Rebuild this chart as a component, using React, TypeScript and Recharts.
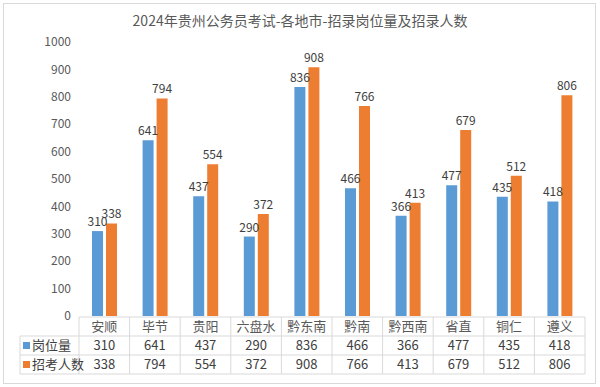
import { BarChart, Bar, XAxis, YAxis, LabelList } from 'recharts';

const categories = ['安顺', '毕节', '贵阳', '六盘水', '黔东南', '黔南', '黔西南', '省直', '铜仁', '遵义'];
const posts = [310, 641, 437, 290, 836, 466, 366, 477, 435, 418];
const applicants = [338, 794, 554, 372, 908, 766, 413, 679, 512, 806];
const yTicks = [0, 100, 200, 300, 400, 500, 600, 700, 800, 900, 1000];
const seriesNames = ['岗位量', '招考人数'];
const seriesColors = ['#5B9BD5', '#ED7D31'];

const FONT = '"Noto Sans CJK SC", "Noto Sans", sans-serif';
const W = 600;
const H = 387;
const LEFT = 79;
const RIGHT = 15;
const BAND = (W - LEFT - RIGHT) / categories.length;
const LINE = '#d9d9d9';

const data = categories.map((name, i) => ({
  name,
  posts: posts[i],
  applicants: applicants[i],
}));

// one table column per category, drawn under the axis
const TableTick = (props: any) => {
  const { x, y, payload, index } = props;
  const i = index ?? payload.index;
  const top = y + 1;
  const rows = [top, top + 19, top + 38, top + 57];
  const l = x - BAND / 2;
  const r = x + BAND / 2;
  const values = [posts[i], applicants[i]];
  return (
    <g fontFamily={FONT}>
      <line x1={l} x2={r} y1={rows[0]} y2={rows[0]} stroke={LINE} />
      <line x1={l} x2={r} y1={rows[1]} y2={rows[1]} stroke={LINE} />
      <line x1={l} x2={r} y1={rows[2]} y2={rows[2]} stroke={LINE} />
      <line x1={l} x2={r} y1={rows[3]} y2={rows[3]} stroke={LINE} />
      <line x1={r} x2={r} y1={rows[0]} y2={rows[3]} stroke={LINE} />
      {i === 0 && (
        <>
          <line x1={l} x2={l} y1={rows[0]} y2={rows[3]} stroke={LINE} />
          <line x1={20} x2={l} y1={rows[1]} y2={rows[1]} stroke={LINE} />
          <line x1={20} x2={l} y1={rows[2]} y2={rows[2]} stroke={LINE} />
          <line x1={20} x2={l} y1={rows[3]} y2={rows[3]} stroke={LINE} />
          <line x1={20} x2={20} y1={rows[1]} y2={rows[3]} stroke={LINE} />
          {seriesNames.map((s, k) => (
            <g key={s}>
              <rect x={23} y={rows[k + 1] + 6} width={7} height={7} fill={seriesColors[k]} />
              <text x={32} y={rows[k + 1] + 14} fontSize={13} fill="#404040">
                {s}
              </text>
            </g>
          ))}
        </>
      )}
      <text x={x} y={rows[0] + 14} textAnchor="middle" fontSize={13} fill="#595959">
        {payload.value}
      </text>
      {values.map((v, k) => (
        <text key={k} x={x} y={rows[k + 1] + 14} textAnchor="middle" fontSize={13} fill="#404040">
          {v}
        </text>
      ))}
    </g>
  );
};

export default function App() {
  return (
    <div style={{ position: 'relative', width: W, height: H, background: '#fff', fontFamily: FONT }}>
      <style>{'body{margin:0}'}</style>
      <div
        style={{
          position: 'absolute',
          left: 3,
          top: 3,
          width: 591,
          height: 379,
          border: '1px solid #d9d9d9',
        }}
      />
      <div
        style={{
          position: 'absolute',
          top: 10,
          left: 0,
          width: W,
          textAlign: 'center',
          fontSize: 14,
          color: '#595959',
        }}
      >
        2024年贵州公务员考试-各地市-招录岗位量及招录人数
      </div>
      <BarChart
        width={W}
        height={H}
        data={data}
        margin={{ top: 42, right: RIGHT, bottom: 0, left: 0 }}
        barSize={11}
        barGap={3}
        style={{ position: 'absolute', left: 0, top: 0 }}
      >
        <XAxis
          dataKey="name"
          height={71}
          interval={0}
          axisLine={false}
          tickLine={false}
          tickSize={0}
          tickMargin={0}
          tick={<TableTick />}
        />
        <YAxis
          width={LEFT}
          domain={[0, 1000]}
          ticks={yTicks}
          axisLine={false}
          tickLine={false}
          tick={{ fontSize: 12, fill: '#595959', fontFamily: FONT }}
        />
        <Bar dataKey="posts" fill={seriesColors[0]} isAnimationActive={false}>
          <LabelList dataKey="posts" position="top" fontSize={12} fill="#404040" fontFamily={FONT} />
        </Bar>
        <Bar dataKey="applicants" fill={seriesColors[1]} isAnimationActive={false}>
          <LabelList dataKey="applicants" position="top" fontSize={12} fill="#404040" fontFamily={FONT} />
        </Bar>
      </BarChart>
    </div>
  );
}
